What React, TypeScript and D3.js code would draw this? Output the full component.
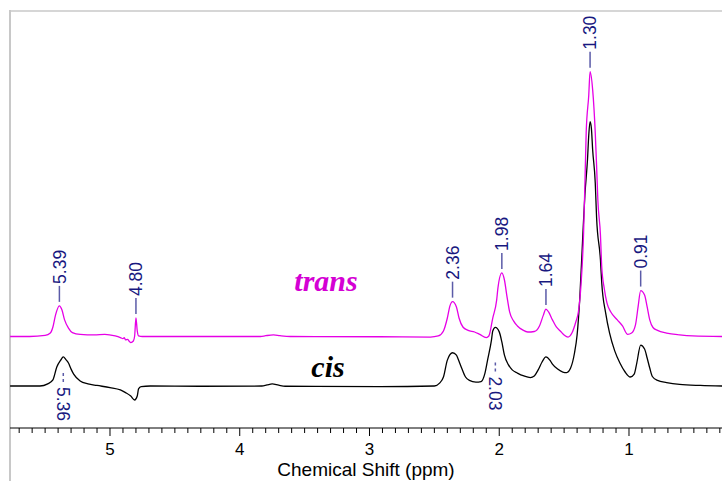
import React from "react";
import * as d3 from "d3";

// spectrum traces (ppm, relative intensity; cis 1.30 = 100)
const transPpm = [5.77, 5.62, 5.5, 5.46, 5.44, 5.42, 5.39, 5.37, 5.35, 5.32, 5.29, 5.23, 5.12, 5.04, 4.96, 4.92, 4.9, 4.89, 4.88, 4.865, 4.85, 4.84, 4.82, 4.81, 4.8, 4.79, 4.78, 4.75, 4.31, 3.84, 3.8, 3.74, 3.69, 3.61, 2.92, 2.53, 2.47, 2.43, 2.4, 2.38, 2.36, 2.33, 2.31, 2.28, 2.24, 2.19, 2.15, 2.1, 2.08, 2.05, 2.02, 2.01, 1.98, 1.96, 1.94, 1.92, 1.89, 1.86, 1.82, 1.78, 1.73, 1.69, 1.66, 1.64, 1.62, 1.59, 1.56, 1.53, 1.5, 1.47, 1.44, 1.41, 1.39, 1.37, 1.35, 1.34, 1.33, 1.31, 1.3, 1.28, 1.26, 1.25, 1.24, 1.22, 1.21, 1.19, 1.17, 1.14, 1.09, 1.05, 1.01, 0.98, 0.95, 0.93, 0.91, 0.88, 0.86, 0.84, 0.815, 0.78, 0.71, 0.61, 0.51, 0.28];
const transInt = [0, 0, 0.4, 1.3, 3.6, 8.1, 11.6, 10.0, 6.3, 3.2, 1.5, 0.8, 0.6, 0.8, 0.2, -0.4, -0.8, -0.4, -1.3, -1.1, -1.9, -2.3, -1.7, 0.2, 7.0, 2.1, 0.2, 0, 0, 0, 0.3, 0.6, 0.3, 0, -0.1, -0.2, 0.2, 2.1, 7.0, 11.6, 13.2, 11.2, 7.0, 3.6, 2.3, 1.7, 0.8, -0.4, 0.2, 7.0, 13.8, 18.4, 24.1, 21.4, 15.0, 9.3, 5.9, 4.0, 2.5, 1.7, 1.9, 4.0, 8.1, 10.4, 9.3, 6.3, 3.6, 2.1, 0.6, -0.2, 1.3, 5.5, 9.3, 19.5, 39.2, 57.4, 77.1, 91.5, 100.3, 93.4, 77.1, 65.0, 51.7, 38.4, 26.3, 18.0, 12.7, 9.3, 6.3, 4.0, 0.8, 1.3, 4.4, 11.2, 17.4, 15.7, 11.2, 6.3, 3.4, 2.3, 1.3, 0.6, 0.2, 0];

const cisPpm = [5.77, 5.54, 5.48, 5.44, 5.41, 5.38, 5.36, 5.34, 5.32, 5.3, 5.28, 5.23, 5.17, 5.1, 5.0, 4.92, 4.88, 4.84, 4.81, 4.79, 4.78, 4.76, 4.69, 4.31, 3.83, 3.79, 3.75, 3.7, 3.65, 2.92, 2.5, 2.46, 2.43, 2.4, 2.36, 2.33, 2.32, 2.29, 2.26, 2.23, 2.18, 2.14, 2.11, 2.09, 2.06, 2.05, 2.03, 2.0, 1.98, 1.96, 1.93, 1.9, 1.86, 1.81, 1.76, 1.73, 1.7, 1.67, 1.64, 1.61, 1.59, 1.55, 1.51, 1.48, 1.45, 1.42, 1.4, 1.38, 1.355, 1.34, 1.32, 1.31, 1.3, 1.29, 1.28, 1.26, 1.25, 1.22, 1.21, 1.18, 1.15, 1.11, 1.07, 1.03, 0.99, 0.96, 0.94, 0.91, 0.88, 0.86, 0.84, 0.82, 0.78, 0.71, 0.61, 0.45, 0.28];
const cisInt = [0, 0, 0.8, 2.3, 7.2, 9.8, 11.0, 10.0, 8.7, 6.4, 4.5, 1.9, 0.8, 0.2, -0.6, -1.5, -2.5, -3.8, -5.3, -3.8, -1.1, -0.2, 0, -0.1, 0, 0.4, 0.8, 0.3, -0.1, -0.2, 0, 1.1, 3.4, 9.8, 12.6, 11.7, 10.6, 6.8, 3.4, 2.1, 1.5, 1.7, 4.9, 9.8, 17.4, 20.8, 22.2, 20.5, 16.7, 11.7, 8.1, 6.1, 4.9, 3.8, 3.2, 3.8, 6.1, 9.1, 11.0, 9.8, 8.3, 6.4, 5.3, 5.1, 6.8, 12.5, 19.3, 32.6, 58.0, 72.3, 85.6, 95.1, 100.1, 97.7, 89.4, 76.9, 64.0, 47.7, 39.0, 27.7, 20.1, 13.3, 8.7, 5.3, 3.4, 4.5, 8.7, 15.5, 14.0, 10.6, 6.8, 3.6, 2.1, 1.3, 0.6, 0.2, 0];

const TRANS_OFFSET = 18.75;

const transLabels = ["5.39", "4.80", "2.36", "1.98", "1.64", "1.30", "0.91"];
const cisLabels = ["5.36", "2.03"];
const majorTicks = [5, 4, 3, 2, 1];

const W = 722;
const H = 481;
const AXIS_Y = 428;
const MAGENTA = "#e600e6";
const NAVY = "#18187f";
const LEADER = "#5b5ba8";

// how far below the cis peak top each lower label starts
const cisLabelDrop: Record<string, number> = { "5.36": 16, "2.03": 35 };

export default function App() {
  const x = d3.scaleLinear().domain([5.7707, 0.2832]).range([10, W]);
  const y = d3.scaleLinear().domain([0, 100]).range([386, 122]);

  const line = d3
    .line<[number, number]>()
    .x((d) => x(d[0]))
    .y((d) => y(d[1]))
    .curve(d3.curveMonotoneX);

  const trans = transPpm.map((p, i) => [p, transInt[i] + TRANS_OFFSET] as [number, number]);
  const cis = cisPpm.map((p, i) => [p, cisInt[i]] as [number, number]);

  const peakTop = (pts: [number, number][], ppm: number) => {
    const near = pts.filter((d) => Math.abs(d[0] - ppm) < 0.025);
    return y(d3.max(near, (d) => d[1]) ?? 0);
  };

  const minorTicks = d3.range(57, 2, -1).map((v) => v / 10).filter((v) => Math.abs(v - Math.round(v)) > 0.01);
  const font = "'Liberation Sans', Arial, sans-serif";
  const labelSize = 17.5;
  const half = labelSize * 0.36;

  return (
    <div style={{ position: "absolute", left: 0, top: 0 }}>
      <svg width={W} height={H} style={{ display: "block", background: "#fff" }}>
        {/* frame */}
        <line x1={9} x2={W} y1={11} y2={11} stroke="#c8c8c8" strokeWidth={1.6} />
        <line x1={10} x2={10} y1={10} y2={H} stroke="#c8c8c8" strokeWidth={2} />

        <path d={line(cis) ?? ""} fill="none" stroke="#000" strokeWidth={1.3} />
        <path d={line(trans) ?? ""} fill="none" stroke={MAGENTA} strokeWidth={1.3} />

        {transLabels.map((t) => {
          const px = x(+t);
          const top = peakTop(trans, +t) - 4;
          return (
            <g key={"t" + t}>
              <line x1={px} x2={px} y1={top} y2={top - 16} stroke={LEADER} strokeWidth={1.5} />
              <text
                transform={`translate(${px + half},${top - 18}) rotate(-90)`}
                fontFamily={font}
                fontSize={labelSize}
                fill={NAVY}
              >
                {t}
              </text>
            </g>
          );
        })}

        {cisLabels.map((t) => {
          const px = x(+t);
          const top = peakTop(cis, +t) + cisLabelDrop[t];
          return (
            <g key={"c" + t}>
              <line x1={px} x2={px} y1={top} y2={top + 10} stroke={LEADER} strokeWidth={1.5} strokeDasharray="3,3" />
              <text
                transform={`translate(${px - half},${top + 14}) rotate(90)`}
                fontFamily={font}
                fontSize={labelSize}
                fill={NAVY}
              >
                {t}
              </text>
            </g>
          );
        })}

        <text x={326} y={291} textAnchor="middle" fontFamily="'Liberation Serif', 'Times New Roman', serif" fontStyle="italic" fontWeight="bold" fontSize={30} fill="#d400d4">
          trans
        </text>
        <text x={328} y={377} textAnchor="middle" fontFamily="'Liberation Serif', 'Times New Roman', serif" fontStyle="italic" fontWeight="bold" fontSize={30} fill="#000">
          cis
        </text>

        {/* x axis */}
        <line x1={10} x2={W} y1={AXIS_Y} y2={AXIS_Y} stroke="#000" strokeWidth={1} />
        {minorTicks.map((v) => (
          <line key={"m" + v} x1={x(v)} x2={x(v)} y1={AXIS_Y} y2={AXIS_Y + 5} stroke="#000" strokeWidth={1} />
        ))}
        {majorTicks.map((v) => (
          <g key={"M" + v}>
            <line x1={x(v)} x2={x(v)} y1={AXIS_Y} y2={AXIS_Y + 8} stroke="#000" strokeWidth={1} />
            <text x={x(v)} y={455} textAnchor="middle" fontFamily={font} fontSize={17} fill="#000">
              {v}
            </text>
          </g>
        ))}
        <text x={(10 + W) / 2} y={475.5} textAnchor="middle" fontFamily={font} fontSize={19} fill="#000">
          Chemical Shift (ppm)
        </text>
      </svg>
    </div>
  );
}
